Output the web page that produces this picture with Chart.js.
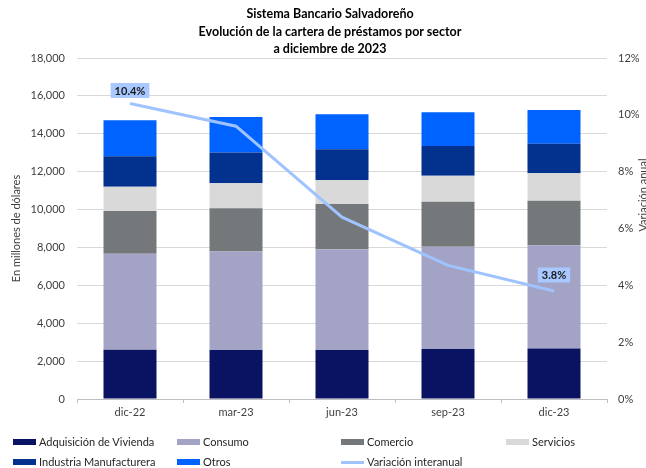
<!DOCTYPE html>
<html>
<head>
<meta charset="utf-8">
<script src="https://cdn.jsdelivr.net/npm/chart.js@4.4.1/dist/chart.umd.min.js"></script>
<style>
  html, body { margin: 0; padding: 0; background: #fff; }
  #wrap { position: relative; width: 646px; height: 468px; overflow: hidden; font-family: Lato, "Open Sans", sans-serif; }
  #chart { position: absolute; left: 0; top: 0; }
  #title { position: absolute; left: 0; top: 5px; width: 660px; text-align: center; font-weight: bold; font-size: 12.5px; line-height: 17.5px; color: #000; }
  .leg { position: absolute; font-size: 11px; color: #262626; white-space: nowrap; height: 14px; line-height: 14px; }
  .leg i { display: inline-block; width: 23px; vertical-align: middle; margin-right: 3px; margin-top: -2px; }
</style>
</head>
<body>
<div id="wrap">
  <canvas id="chart" width="646" height="468"></canvas>
  <div id="title">Sistema Bancario Salvadoreño<br>Evolución de la cartera de préstamos por sector<br>a diciembre de 2023</div>
</div>
<script>
/* --------------- Data --------------------- */
const categories = ["dic-22", "mar-23", "jun-23", "sep-23", "dic-23"];

const vivienda  = [2600, 2590, 2590, 2640, 2660];
const consumo   = [5070, 5190, 5310, 5400, 5450];
const comercio  = [2250, 2290, 2390, 2375, 2360];
const servicios = [1290, 1320, 1270, 1370, 1440];
const industria = [1600, 1620, 1620, 1570, 1570];
const otros     = [1900, 1870, 1850, 1780, 1780];

const variacion = [10.4, 9.6, 6.4, 4.7, 3.8]; // %
const labeledPoints = [0, 4];

/* --------------- Colors --------------------- */
const sectorColors = {
  vivienda: "#0A1262",
  consumo: "#A3A3C5",
  comercio: "#75787A",
  servicios: "#D9D9D9",
  industria: "#02318E",
  otros: "#0062FF",
};
const lineColor = "#9FC3FF";

/* --------------- Chart --------------------- */
const bar = (label, data, color) => ({
  type: "bar",
  label,
  data,
  backgroundColor: color,
  yAxisID: "y",
  stack: "s",
  order: 1,
  barPercentage: 0.5,
  categoryPercentage: 1,
});

const tickFont = { family: "Lato", size: 11 };
const tickColor = "#404040";

// labels on some points of the line
const pointLabels = {
  id: "pointLabels",
  afterDatasetsDraw(chart) {
    const ctx = chart.ctx;
    const meta = chart.getDatasetMeta(6);
    ctx.save();
    ctx.font = "bold 11px Lato";
    ctx.textAlign = "center";
    ctx.textBaseline = "middle";
    labeledPoints.forEach((i) => {
      const p = meta.data[i];
      const txt = variacion[i].toFixed(1) + "%";
      const w = ctx.measureText(txt).width + 8;
      const h = 15;
      const cx = p.x;
      const cy = p.y - (i === 0 ? 13 : 16);
      ctx.fillStyle = "#A9C8FF";
      ctx.fillRect(cx - w / 2, cy - h / 2, w, h);
      ctx.fillStyle = "#1a1a1a";
      ctx.fillText(txt, cx, cy + 0.5);
    });
    ctx.restore();
  },
};

// secondary axis title, rotated upward and cut by the right edge like the original
const rightTitle = {
  id: "rightTitle",
  afterDraw(chart) {
    const ctx = chart.ctx;
    ctx.save();
    ctx.translate(643, 195);
    ctx.rotate(-Math.PI / 2);
    ctx.font = "11px Lato";
    ctx.fillStyle = tickColor;
    ctx.textAlign = "center";
    ctx.textBaseline = "middle";
    ctx.fillText("Variación anual", 0, 0);
    ctx.restore();
  },
};

const chart = new Chart(document.getElementById("chart"), {
  data: {
    labels: categories,
    datasets: [
      bar("Adquisición de Vivienda", vivienda, sectorColors.vivienda),
      bar("Consumo", consumo, sectorColors.consumo),
      bar("Comercio", comercio, sectorColors.comercio),
      bar("Servicios", servicios, sectorColors.servicios),
      bar("Industria Manufacturera", industria, sectorColors.industria),
      bar("Otros", otros, sectorColors.otros),
      {
        type: "line",
        label: "Variación interanual",
        data: variacion,
        borderColor: lineColor,
        backgroundColor: lineColor,
        borderWidth: 3,
        pointRadius: 0,
        tension: 0,
        yAxisID: "y1",
        order: 0,
      },
    ],
  },
  options: {
    responsive: false,
    animation: false,
    devicePixelRatio: 1,
    layout: { padding: { top: 58, left: 0, right: 0, bottom: 49 } },
    plugins: {
      legend: { display: false },
      tooltip: { enabled: false },
      title: { display: false },
    },
    scales: {
      x: {
        stacked: true,
        offset: true,
        grid: { offset: true, drawOnChartArea: false, drawTicks: true, tickLength: 4, color: "#BFBFBF" },
        border: { display: true, color: "#BFBFBF" },
        ticks: { font: tickFont, color: tickColor, padding: 3, maxRotation: 0 },
        afterFit: (s) => { s.height = 20; },
      },
      y: {
        stacked: true,
        position: "left",
        min: 0,
        max: 18000,
        ticks: {
          stepSize: 2000,
          font: tickFont,
          color: tickColor,
          padding: 12,
          callback: (v) => v.toLocaleString("en-US"),
        },
        grid: { color: "#D9D9D9", drawTicks: false },
        border: { display: false },
        title: {
          display: true,
          text: "En millones de dólares",
          font: tickFont,
          color: tickColor,
          padding: { top: 10, bottom: 0 },
        },
        afterFit: (s) => { s.width = 77; },
      },
      y1: {
        position: "right",
        min: 0,
        max: 12,
        ticks: {
          stepSize: 2,
          font: tickFont,
          color: tickColor,
          padding: 11,
          callback: (v) => v + "%",
        },
        grid: { display: false, drawTicks: false },
        border: { display: false },
        afterFit: (s) => { s.width = 39; },
      },
    },
  },
  plugins: [pointLabels, rightTitle],
});

/* --------------- Legend (grid like the original) --------------------- */
const legendCols = [13, 177, 341, 506];
const legendRows = [435, 455];
chart.data.datasets.forEach((ds, k) => {
  const el = document.createElement("div");
  el.className = "leg";
  el.style.left = legendCols[k % 4] + "px";
  el.style.top = legendRows[Math.floor(k / 4)] + "px";
  const sw = document.createElement("i");
  sw.style.background = ds.type === "line" ? ds.borderColor : ds.backgroundColor;
  sw.style.height = ds.type === "line" ? "3px" : "6px";
  el.appendChild(sw);
  el.appendChild(document.createTextNode(ds.label));
  document.getElementById("wrap").appendChild(el);
});
</script>
</body>
</html>
